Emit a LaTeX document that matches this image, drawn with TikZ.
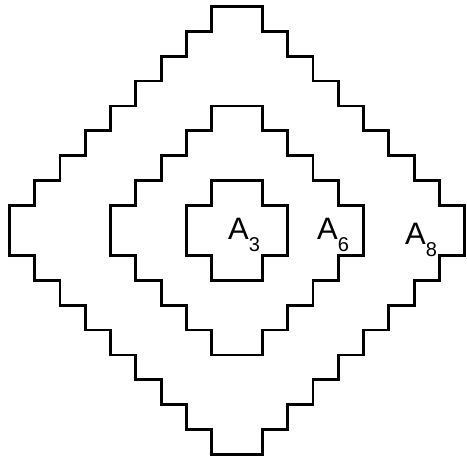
\documentclass[tikz,border=0pt]{standalone}
\usepackage{fontspec}
\setmainfont{Liberation Sans}
\usepackage{tikz}

\newcommand{\areasub}[1]{A\raisebox{-12pt}{\fontsize{20}{20}\selectfont #1}}

\begin{document}
\begin{tikzpicture}[
  x=25.3pt, y=24.9pt,
  stair/.style={draw=black, line width=2.8pt, line join=miter},
  lbl/.style={anchor=base west, inner sep=0pt, font=\fontsize{31}{31}\selectfont}
]
\useasboundingbox (0,0) rectangle (467pt,462pt);

\begin{scope}[shift={(237pt,231.5pt)}]
% ---- Staircase rings (1, 4 and 8 steps per side) ----
\foreach \n in {1,4,8} {
  \draw[stair] (-1,\n+1) -- (1,\n+1)
    \foreach \i in {1,...,\n} { -- ++(0,-1) -- ++(1,0) } -- ++(0,-2)
    \foreach \i in {1,...,\n} { -- ++(-1,0) -- ++(0,-1) } -- ++(-2,0)
    \foreach \i in {1,...,\n} { -- ++(0,1) -- ++(-1,0) } -- ++(0,2)
    \foreach \i in {1,...,\n} { -- ++(1,0) -- ++(0,1) } -- cycle;
}

% ---- Labels ----
\node[lbl] (a3) at (-0.36,-0.38) {\areasub{3}};
\node[lbl] (a6) at (3.16,-0.38) {\areasub{6}};
\node[lbl] (a8) at (6.64,-0.58) {\areasub{8}};
\end{scope}

\end{tikzpicture}
\end{document}
